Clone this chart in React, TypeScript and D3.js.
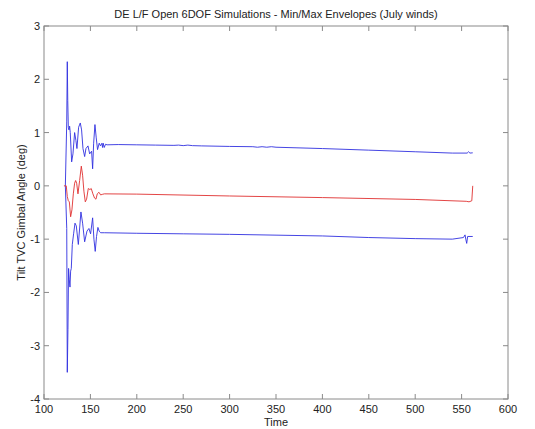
import React from "react";
import * as d3 from "d3";

const xTicks = [100, 150, 200, 250, 300, 350, 400, 450, 500, 550, 600];
const yTicks = [-4, -3, -2, -1, 0, 1, 2, 3];

const maxTime = [123, 124.5, 125.1, 125.6, 126.2, 126.9, 127.6, 128.3, 129.8, 131.2, 133, 134.4, 135.5, 137.3, 139.1, 140.5, 142, 143.8, 145.2, 147.4, 149.2, 151.3, 152.4, 153.5, 154.9, 156.3, 157.7, 159.5, 160.9, 162.4, 163.1, 163.8, 164.9, 166.3, 168, 180, 200, 220, 240, 245, 250, 255, 260, 270, 300, 325, 330, 335, 340, 345, 350, 400, 450, 500, 540, 556, 557.5, 559, 562];
const maxValue = [0, 1.2, 2.33, 1.6, 1.1, 1.05, 1.12, 1.0, 0.45, 0.6, 1.0, 0.85, 0.7, 1.1, 1.18, 1.05, 0.7, 0.55, 0.7, 0.75, 0.6, 0.65, 0.32, 0.8, 1.15, 0.9, 0.68, 0.8, 0.75, 0.8, 0.72, 0.8, 0.72, 0.78, 0.77, 0.775, 0.77, 0.765, 0.76, 0.765, 0.755, 0.765, 0.755, 0.75, 0.74, 0.735, 0.725, 0.735, 0.725, 0.735, 0.725, 0.70, 0.67, 0.64, 0.615, 0.615, 0.64, 0.615, 0.62];

const meanTime = [121.5, 124, 125.1, 126.2, 127.3, 128.7, 130.1, 131.6, 133, 134.1, 135.2, 136.6, 138.4, 140.2, 141.6, 143, 144.5, 145.9, 147.7, 149.5, 150.9, 152.7, 154.5, 156, 157.4, 159.2, 161, 162.8, 165, 200, 300, 400, 500, 555, 558, 561, 562];
const meanValue = [0, 0, -0.2, -0.28, -0.3, -0.58, -0.45, -0.15, 0.05, 0.1, 0.05, -0.15, 0.1, 0.37, 0.2, -0.1, -0.3, -0.25, -0.05, -0.07, -0.05, -0.15, -0.23, -0.25, -0.15, -0.12, -0.17, -0.16, -0.15, -0.155, -0.19, -0.22, -0.255, -0.29, -0.3, -0.28, 0];

const minTime = [123, 124.5, 125.1, 125.8, 126.5, 127.2, 128, 128.7, 129.4, 130.5, 131.9, 133.4, 134.8, 137, 139.8, 141.6, 143.8, 146.3, 148.4, 150.2, 152.4, 153.8, 155.2, 156.6, 158.1, 159.5, 161, 165, 200, 250, 300, 350, 400, 450, 500, 540, 552, 553.7, 554.5, 555.5, 556.5, 562];
const minValue = [0, -0.8, -3.5, -2.7, -1.55, -1.75, -1.9, -1.6, -1.55, -1.1, -0.9, -0.7, -0.75, -1.1, -0.49, -0.7, -1.05, -0.85, -0.8, -0.9, -0.6, -1.0, -1.23, -0.95, -0.78, -0.85, -0.88, -0.88, -0.89, -0.9, -0.91, -0.925, -0.94, -0.97, -0.99, -1.0, -0.97, -0.92, -1.0, -1.08, -0.95, -0.95];

const W = 535;
const H = 429;
const left = 44;
const right = 508;
const top = 26;
const bottom = 399;

export default function App() {
  const x = d3.scaleLinear().domain([100, 600]).range([left, right]);
  const y = d3.scaleLinear().domain([-4, 3]).range([bottom, top]);
  const line = d3
    .line<[number, number]>()
    .x((d) => x(d[0]))
    .y((d) => y(d[1]));
  const zip = (a: number[], b: number[]) => a.map((t, i) => [t, b[i]] as [number, number]);
  const series = [
    { d: zip(maxTime, maxValue), c: "#3030e0" },
    { d: zip(minTime, minValue), c: "#3030e0" },
    { d: zip(meanTime, meanValue), c: "#e03030" },
  ];
  const axisColor = "#8a8a8a";
  const font = "Arial, 'Liberation Sans', sans-serif";
  const tl = 5;
  return (
    <svg
      width={W}
      height={H}
      style={{ position: "absolute", left: 0, top: 0, background: "#fff" }}
      fontFamily={font}
    >
      <rect x={0} y={0} width={W} height={H} fill="#fff" />
      {series.map((s, i) => (
        <path key={i} d={line(s.d) || ""} fill="none" stroke={s.c} strokeWidth={0.9} />
      ))}
      <rect
        x={left}
        y={top}
        width={right - left}
        height={bottom - top}
        fill="none"
        stroke={axisColor}
        strokeWidth={1}
      />
      {xTicks.map((t) => (
        <g key={"x" + t}>
          <line x1={x(t)} x2={x(t)} y1={bottom} y2={bottom - tl} stroke={axisColor} />
          <line x1={x(t)} x2={x(t)} y1={top} y2={top + tl} stroke={axisColor} />
          <text x={x(t)} y={413} fontSize={11} textAnchor="middle" fill="#222">
            {t}
          </text>
        </g>
      ))}
      {yTicks.map((t) => (
        <g key={"y" + t}>
          <line x1={left} x2={left + tl} y1={y(t)} y2={y(t)} stroke={axisColor} />
          <line x1={right} x2={right - tl} y1={y(t)} y2={y(t)} stroke={axisColor} />
          <text x={40} y={y(t) + 4} fontSize={11} textAnchor="end" fill="#222">
            {t}
          </text>
        </g>
      ))}
      <text x={(left + right) / 2} y={18} fontSize={11} textAnchor="middle" fill="#222">
        DE L/F Open 6DOF Simulations - Min/Max Envelopes (July winds)
      </text>
      <text x={(left + right) / 2} y={426} fontSize={11} textAnchor="middle" fill="#222">
        Time
      </text>
      <text
        transform={`translate(25,${(top + bottom) / 2}) rotate(-90)`}
        fontSize={11}
        textAnchor="middle"
        fill="#222"
      >
        Tilt TVC Gimbal Angle (deg)
      </text>
    </svg>
  );
}
